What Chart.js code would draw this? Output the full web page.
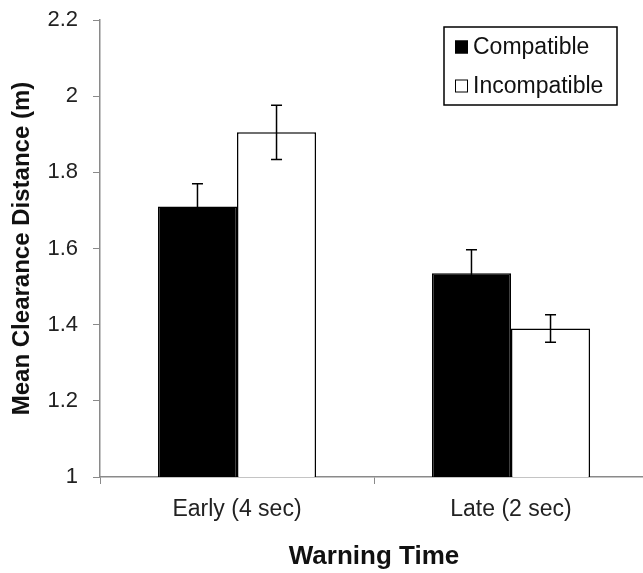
<!DOCTYPE html>
<html>
<head>
<meta charset="utf-8">
<script src="https://cdn.jsdelivr.net/npm/chart.js@4/dist/chart.umd.min.js"></script>
<style>
  html, body { margin: 0; padding: 0; background: #fff; overflow: hidden; }
  #wrap { width: 660px; height: 573px; }
</style>
</head>
<body>
<div id="wrap"><canvas id="c" width="660" height="573"></canvas></div>
<script>
const categories = ['Early (4 sec)', 'Late (2 sec)'];
const seriesNames = ['Compatible', 'Incompatible'];
const compatible = [1.71, 1.535];
const incompatible = [1.905, 1.39];
const compatibleErr = [0.06, 0.062];
const incompatibleErr = [0.071, 0.036];
const yMin = 1, yMax = 2.2, yStep = 0.2;
const xTitle = 'Warning Time';
const yTitle = 'Mean Clearance Distance (m)';

const FONT = "'Liberation Sans', Arial, sans-serif";
const AXIS_COLOR = '#8a8a8a';

const errorBars = {
  id: 'errorBars',
  afterDatasetsDraw(chart) {
    const ctx = chart.ctx;
    const y = chart.scales.y;
    ctx.save();
    ctx.strokeStyle = '#000';
    ctx.lineWidth = 1.5;
    chart.data.datasets.forEach((ds, di) => {
      const meta = chart.getDatasetMeta(di);
      meta.data.forEach((bar, i) => {
        const v = ds.data[i], e = ds.errors[i];
        const yt = y.getPixelForValue(v + e), yb = y.getPixelForValue(v - e);
        const x = bar.x, cap = 5.5;
        ctx.beginPath();
        ctx.moveTo(x, yt); ctx.lineTo(x, yb);
        ctx.moveTo(x - cap, yt); ctx.lineTo(x + cap, yt);
        ctx.moveTo(x - cap, yb); ctx.lineTo(x + cap, yb);
        ctx.stroke();
      });
    });
    ctx.restore();
  }
};

const boxLegend = {
  id: 'boxLegend',
  afterDraw(chart) {
    const ctx = chart.ctx;
    const ca = chart.chartArea;
    const bx = ca.right - 204, by = ca.top + 7, bw = 173, bh = 78;
    ctx.save();
    ctx.fillStyle = '#fff';
    ctx.fillRect(bx, by, bw, bh);
    ctx.strokeStyle = '#000';
    ctx.lineWidth = 1.5;
    ctx.strokeRect(bx, by, bw, bh);
    ctx.font = '23px ' + FONT;
    ctx.textBaseline = 'middle';
    chart.data.datasets.forEach((ds, i) => {
      const cy = by + 20 + i * 39;
      ctx.fillStyle = ds.backgroundColor;
      ctx.fillRect(bx + 11, cy - 6.5, 13, 13);
      ctx.strokeStyle = '#000';
      ctx.lineWidth = 1;
      ctx.strokeRect(bx + 11.5, cy - 6, 12, 12);
      ctx.fillStyle = '#111';
      ctx.fillText(ds.label, bx + 29, cy + 1);
    });
    ctx.restore();
  }
};

new Chart(document.getElementById('c'), {
  type: 'bar',
  data: {
    labels: categories,
    datasets: [
      { label: seriesNames[0], data: compatible, errors: compatibleErr,
        backgroundColor: '#000', borderColor: '#000', borderWidth: 1.5 },
      { label: seriesNames[1], data: incompatible, errors: incompatibleErr,
        backgroundColor: '#fff', borderColor: '#000', borderWidth: 1.5 }
    ]
  },
  options: {
    responsive: false,
    animation: false,
    events: [],
    layout: { padding: { left: 0, right: 12, top: 20, bottom: 0 } },
    datasets: { bar: { categoryPercentage: 0.577, barPercentage: 1.0, borderSkipped: 'start' } },
    plugins: { legend: { display: false }, tooltip: { enabled: false } },
    scales: {
      x: {
        grid: { drawOnChartArea: false, drawTicks: true, tickLength: 7, color: AXIS_COLOR, offset: true },
        border: { color: AXIS_COLOR, width: 1.5 },
        ticks: { color: '#222', font: { family: FONT, size: 23 }, padding: 12 },
        title: { display: true, text: xTitle, color: '#111', font: { family: FONT, size: 26, weight: 'bold' }, padding: { top: 4, bottom: 1 } },
        afterFit(s) { s.height = 96; s.paddingLeft = 0; s.paddingRight = 0; }
      },
      y: {
        min: yMin, max: yMax,
        grid: { drawOnChartArea: false, drawTicks: true, tickLength: 7, color: AXIS_COLOR },
        border: { color: AXIS_COLOR, width: 1.5 },
        ticks: { stepSize: yStep, color: '#222', font: { family: FONT, size: 22 }, padding: 15,
          callback: v => String(Number(v.toFixed(1))) },
        title: { display: true, text: yTitle, color: '#111', font: { family: FONT, size: 24, weight: 'bold' }, padding: { top: 8, bottom: 0 } },
        afterFit(s) { s.width = 100; s.paddingTop = 0; s.paddingBottom = 0; }
      }
    }
  },
  plugins: [errorBars, boxLegend]
});
</script>
</body>
</html>
